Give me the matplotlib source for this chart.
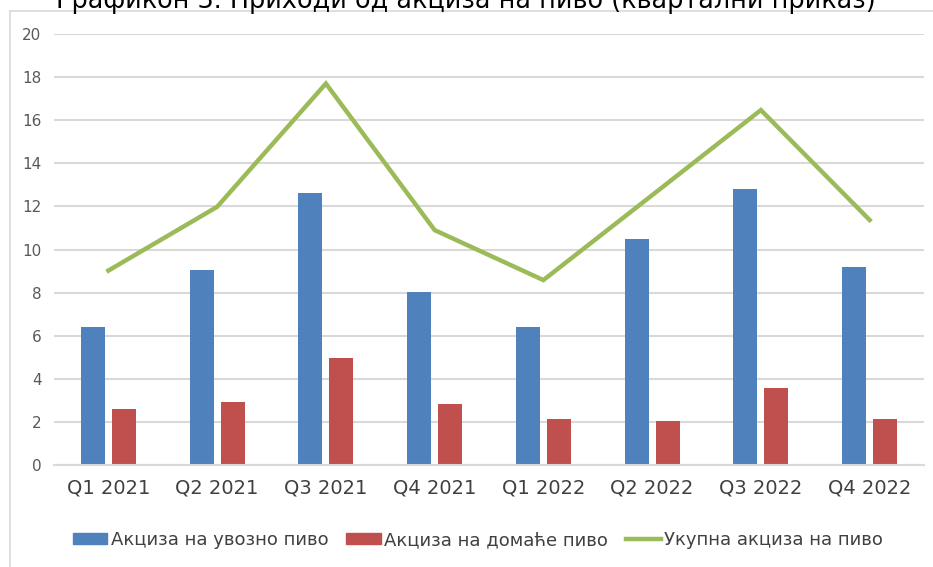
import numpy as np
import matplotlib.pyplot as plt
from matplotlib.lines import Line2D

# data
quarters = ["Q1 2021", "Q2 2021", "Q3 2021", "Q4 2021",
            "Q1 2022", "Q2 2022", "Q3 2022", "Q4 2022"]
imported = [6.4, 9.05, 12.6, 8.05, 6.4, 10.5, 12.8, 9.2]
domestic = [2.62, 2.92, 4.97, 2.82, 2.15, 2.03, 3.57, 2.15]
total = [9.02, 11.98, 17.7, 10.9, 8.58, 12.52, 16.47, 11.37]

names = ["Акциза на увозно пиво", "Акциза на домаће пиво", "Укупна акциза на пиво"]
title = "Графикон 3. Приходи од акциза на пиво (квартални приказ)"

blue = "#4f81bd"
red = "#c0504d"
green = "#9bbb59"
grid = "#d9d9d9"

plt.rcParams['font.family'] = ['DejaVu Sans']

W, H = 933, 567
fig = plt.figure(figsize=(W / 100, H / 100), dpi=100)
ax = fig.add_axes([54 / W, (H - 465) / H, 870 / W, 431 / H])

x = np.arange(len(quarters))
ax.bar(x - 0.143, imported, width=0.22, color=blue, zorder=2)
ax.bar(x + 0.143, domestic, width=0.22, color=red, zorder=2)
ax.plot(x, total, color=green, lw=3.2, solid_joinstyle="miter", zorder=3)

ax.set_xlim(-0.5, len(quarters) - 0.5)
ax.set_ylim(0, 20)
ax.set_yticks(np.arange(0, 21, 2))
ax.set_xticks(x)
ax.set_xticklabels(quarters, fontsize=14, color="#404040")
ax.tick_params(axis="y", labelsize=11, labelcolor="#595959", length=0, pad=9)
ax.tick_params(axis="x", length=0, pad=10)
ax.yaxis.grid(True, color=grid, lw=1.5, zorder=0)
for s in ["top", "right", "left"]:
    ax.spines[s].set_visible(False)
ax.spines["bottom"].set_color(grid)
ax.spines["bottom"].set_linewidth(1.5)

# outer chart border (top and left visible)
fig.add_artist(Line2D([10 / W, 1], [1 - 11 / H, 1 - 11 / H], color=grid, lw=1.2,
                      transform=fig.transFigure))
fig.add_artist(Line2D([10 / W, 10 / W], [0, 1 - 11 / H], color=grid, lw=1.2,
                      transform=fig.transFigure))

# title, cut off at the top edge as in the original
fig.text(466 / W, 1 - 8.5 / H, title, ha="center", va="baseline",
         fontsize=18.4, color="#000000")

handles = [plt.Rectangle((0, 0), 1, 1, color=blue),
           plt.Rectangle((0, 0), 1, 1, color=red),
           Line2D([], [], color=green, lw=3.2)]
fig.legend(handles, names, loc="center", bbox_to_anchor=(478 / W, 1 - 540 / H),
           ncol=3, frameon=False, fontsize=13, handlelength=1.9, handleheight=0.6,
           handletextpad=0.2, columnspacing=1.0, labelcolor="#404040")

fig.savefig("out.png", dpi=100)
